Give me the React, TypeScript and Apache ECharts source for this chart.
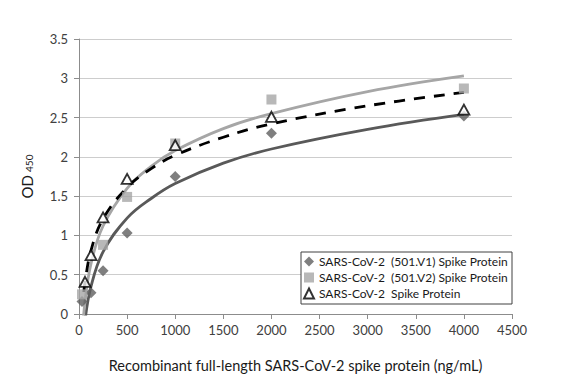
import React, { useEffect, useRef } from "react";
import * as echarts from "echarts";

// Measured points (x in ng/mL, OD450)
const v1Points: [number, number][] = [
  [31.25, 0.16], [125, 0.27], [250, 0.55], [500, 1.03], [1000, 1.75], [2000, 2.3], [4000, 2.52],
];
const v2Points: [number, number][] = [
  [31.25, 0.25], [250, 0.88], [500, 1.49], [1000, 2.17], [2000, 2.73], [4000, 2.87],
];
const wtPoints: [number, number][] = [
  [62.5, 0.41], [125, 0.75], [250, 1.23], [500, 1.72], [1000, 2.15], [2000, 2.51], [4000, 2.6],
];

// Trendline curves
const trendX = [31.25, 62.5, 125, 250, 500, 750, 1000, 1500, 2000, 3000, 4000];
const v1Trend = [-0.52, -0.085, 0.35, 0.79, 1.22, 1.47, 1.66, 1.92, 2.1, 2.35, 2.54];
const v2Trend = [-0.32, 0.16, 0.64, 1.12, 1.6, 1.88, 2.08, 2.36, 2.55, 2.83, 3.03];
const wtTrendX = [50, 62.5, 125, 250, 500, 750, 1000, 1500, 2000, 3000, 4000];
const wtTrend = [0.28, 0.41, 0.81, 1.21, 1.61, 1.85, 2.02, 2.25, 2.42, 2.65, 2.82];

const seriesNames = [
  "SARS-CoV-2  (501.V1) Spike Protein",
  "SARS-CoV-2  (501.V2) Spike Protein",
  "SARS-CoV-2  Spike Protein",
];
const xTitle = "Recombinant full-length SARS-CoV-2 spike protein (ng/mL)";

const FONT = "Lato";

export default function App() {
  const ref = useRef<HTMLDivElement>(null);
  useEffect(() => {
    if (!ref.current) return;
    const chart = echarts.init(ref.current, undefined, { renderer: "svg" });
    const zip = (xs: number[], ys: number[]) => xs.map((x, i) => [x, ys[i]]);
    chart.setOption({
      animation: false,
      backgroundColor: "#ffffff",
      textStyle: { fontFamily: FONT },
      grid: { left: 79, top: 39, width: 433, height: 275, containLabel: false },
      xAxis: {
        type: "value",
        min: 0,
        max: 4500,
        interval: 500,
        name: xTitle,
        nameLocation: "middle",
        nameGap: 44,
        nameTextStyle: { fontFamily: FONT, fontSize: 14.5, color: "#1a1a1a" },
        axisLine: { show: true, lineStyle: { color: "#8c8c8c", width: 1 } },
        axisTick: { show: true, length: 5, lineStyle: { color: "#8c8c8c" } },
        axisLabel: {
          fontFamily: FONT,
          fontSize: 13,
          color: "#404040",
          margin: 9,
          formatter: (v: number) => String(v),
        },
        splitLine: { show: false },
      },
      yAxis: {
        type: "value",
        min: 0,
        max: 3.5,
        interval: 0.5,
        name: "{a|OD} {b|450}",
        nameLocation: "middle",
        nameRotate: 90,
        nameGap: 45,
        nameTextStyle: {
          rich: {
            a: { fontFamily: FONT, fontSize: 15, color: "#1a1a1a" },
            b: { fontFamily: FONT, fontSize: 10, color: "#1a1a1a", verticalAlign: "bottom", padding: [5, 0, 0, 0] },
          },
        },
        axisLine: { show: true, lineStyle: { color: "#8c8c8c", width: 1 } },
        axisTick: { show: true, length: 5, lineStyle: { color: "#8c8c8c" } },
        axisLabel: {
          fontFamily: FONT,
          fontSize: 13,
          color: "#404040",
          margin: 11,
          formatter: (v: number) => String(v),
        },
        splitLine: { show: true, lineStyle: { color: "#cdcdcd", width: 1 } },
      },
      legend: {
        data: seriesNames,
        orient: "vertical",
        left: 303,
        top: 254,
        itemWidth: 10,
        itemHeight: 10,
        itemGap: 1,
        padding: 0,
        z: 10,
        textStyle: { fontFamily: FONT, fontSize: 12, color: "#1a1a1a", lineHeight: 15 },
      },
      graphic: [
        {
          type: "rect",
          z: 5,
          shape: { x: 301, y: 252, width: 211, height: 52 },
          style: { fill: "#ffffff", stroke: "#404040", lineWidth: 1 },
        },
      ],
      series: [
        {
          type: "line",
          data: zip(trendX, v1Trend),
          smooth: 0.4,
          showSymbol: false,
          symbol: "none",
          lineStyle: { color: "#595959", width: 2.8 },
          z: 2,
          silent: true,
        },
        {
          type: "line",
          data: zip(trendX, v2Trend),
          smooth: 0.4,
          showSymbol: false,
          symbol: "none",
          lineStyle: { color: "#a6a6a6", width: 2.8 },
          z: 2,
          silent: true,
        },
        {
          type: "line",
          data: zip(wtTrendX, wtTrend),
          smooth: 0.4,
          showSymbol: false,
          symbol: "none",
          lineStyle: { color: "#000000", width: 2.8, type: [11, 9] },
          z: 3,
          silent: true,
        },
        {
          name: seriesNames[0],
          type: "scatter",
          data: v1Points,
          symbol: "diamond",
          symbolSize: 11,
          itemStyle: { color: "#5f5f5f" },
          z: 4,
        },
        {
          name: seriesNames[1],
          type: "scatter",
          data: v2Points,
          symbol: "rect",
          symbolSize: 10,
          itemStyle: { color: "#a6a6a6" },
          z: 4,
        },
        {
          name: seriesNames[2],
          type: "scatter",
          data: wtPoints,
          symbol: "triangle",
          symbolSize: [11, 10],
          itemStyle: { color: "#ffffff", borderColor: "#000000", borderWidth: 1.8 },
          z: 4,
        },
      ],
    });
    return () => chart.dispose();
  }, []);
  return (
    <div
      ref={ref}
      style={{ position: "fixed", left: 0, top: 0, width: 582, height: 382, background: "#fff" }}
    />
  );
}
